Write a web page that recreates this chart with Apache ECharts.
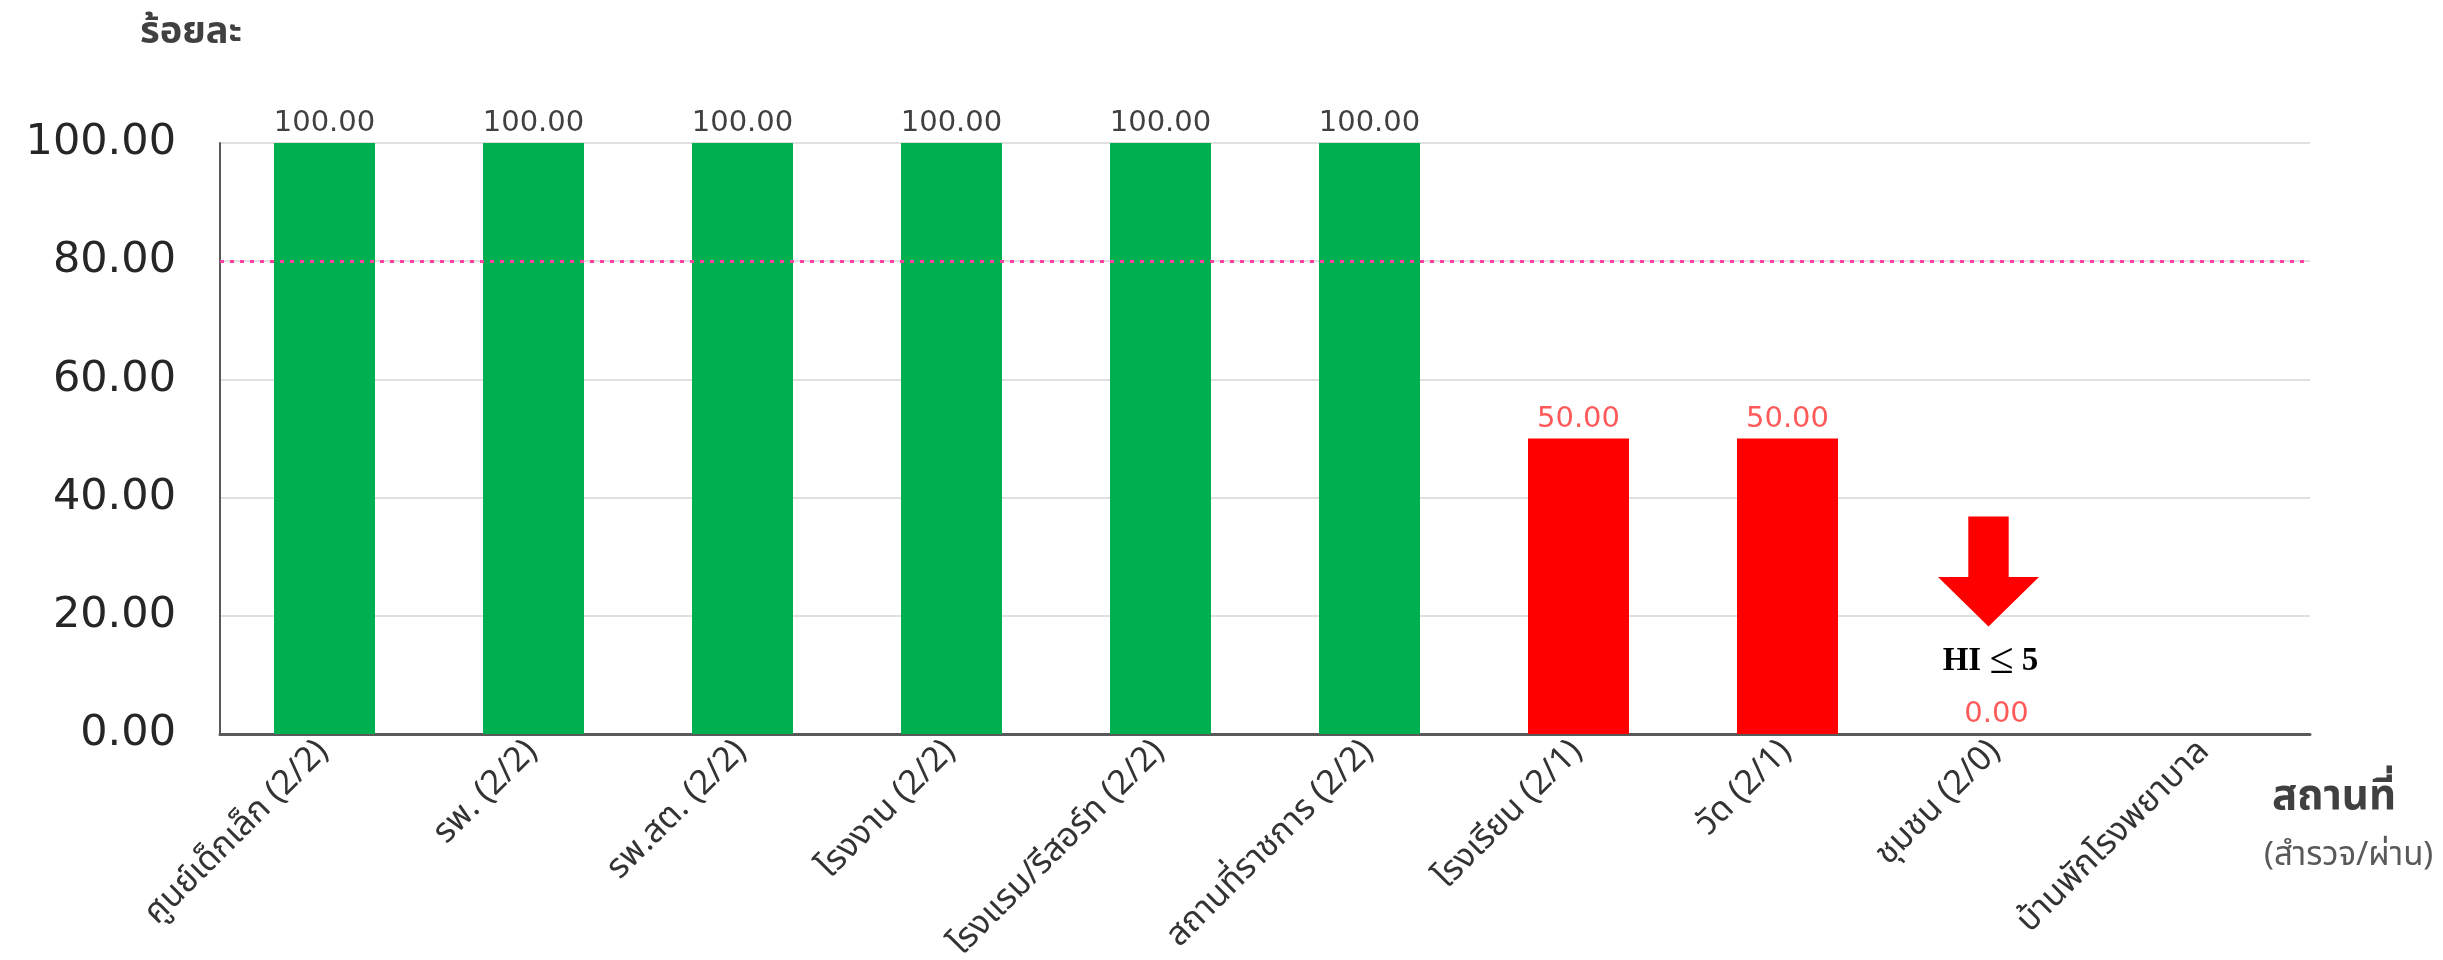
<!DOCTYPE html>
<html>
<head>
<meta charset="utf-8">
<style>
  html, body { margin: 0; padding: 0; background: #ffffff; }
  #chart { width: 2443px; height: 960px; }
</style>
<script src="https://cdn.jsdelivr.net/npm/echarts@6/dist/echarts.min.js"></script>
</head>
<body>
<div id="chart"></div>
<script>
// Places surveyed and the percentage that passed (surveyed/passed in brackets)
const categories = [
  'ศูนย์เด็กเล็ก (2/2)',
  'รพ. (2/2)',
  'รพ.สต. (2/2)',
  'โรงงาน (2/2)',
  'โรงแรม/รีสอร์ท (2/2)',
  'สถานที่ราชการ (2/2)',
  'โรงเรียน (2/1)',
  'วัด (2/1)',
  'ชุมชน (2/0)',
  'บ้านพักโรงพยาบาล'
];
const passPercent = [100, 100, 100, 100, 100, 100, 50, 50, 0, null];
const targetPercent = 80;
const yTicks = [0, 20, 40, 60, 80, 100];
const yAxisTitle = 'ร้อยละ';
const xAxisTitle = 'สถานที่';
const xAxisSubtitle = '(สำรวจ/ผ่าน)';

const GREEN = '#00b050';
const RED = '#ff0000';
const THAI_FONT = "Tahoma, 'Noto Sans Thai', 'Noto Sans', 'DejaVu Sans', sans-serif";
const NUM_FONT = "Verdana, 'DejaVu Sans', sans-serif";
const SERIF_FONT = "'Liberation Serif', 'Times New Roman', serif";

const chart = echarts.init(document.getElementById('chart'), null, { renderer: 'canvas' });

const barData = passPercent.map(v => {
  if (v === null) return null;
  const pass = v >= targetPercent;
  return {
    value: v,
    itemStyle: { color: pass ? GREEN : RED },
    label: { color: pass ? '#404040' : '#ff5a5a' }
  };
});

// Down arrow outline (unit path, scaled by symbolSize)
const arrowPath = 'path://M30,0 L70,0 L70,55 L100,55 L50,100 L0,55 L30,55 Z';

const option = {
  animation: false,
  backgroundColor: '#ffffff',
  grid: {
    left: 220, right: 133, top: 143, bottom: 226,
    containLabel: false,
    outerBoundsMode: 'none'
  },
  xAxis: {
    type: 'category',
    data: categories,
    axisLine: { show: true, lineStyle: { color: '#595959', width: 3 } },
    axisTick: { show: false },
    axisLabel: {
      rotate: 45,
      margin: 14,
      interval: 0,
      fontFamily: THAI_FONT,
      fontSize: 34,
      color: '#333333'
    },
    splitLine: { show: false }
  },
  yAxis: {
    type: 'value',
    min: yTicks[0],
    max: yTicks[yTicks.length - 1],
    interval: yTicks[1] - yTicks[0],
    axisLine: { show: true, lineStyle: { color: '#595959', width: 2 } },
    axisTick: { show: false },
    axisLabel: {
      formatter: v => v.toFixed(2),
      fontFamily: NUM_FONT,
      fontSize: 43,
      color: '#262626',
      margin: 44
    },
    splitLine: { show: true, lineStyle: { color: '#e0e0e0', width: 2 } }
  },
  series: [
    {
      type: 'bar',
      data: barData,
      barWidth: 101,
      label: {
        show: true,
        position: 'top',
        distance: 5,
        formatter: p => (p.value === null || p.value === undefined) ? '' : Number(p.value).toFixed(2),
        fontFamily: NUM_FONT,
        fontSize: 29
      },
      markLine: {
        silent: true,
        symbol: ['none', 'none'],
        label: { show: false },
        lineStyle: { color: '#ff3fa4', type: [4, 6], width: 3 },
        data: [{ yAxis: targetPercent }]
      },
      markPoint: {
        silent: true,
        data: [
          {
            coord: [categories[8], 27.5],
            symbol: arrowPath,
            symbolSize: [101, 110],
            symbolOffset: [-8, 0],
            itemStyle: { color: '#ff0000' },
            label: { show: false }
          },
          {
            coord: [categories[8], 12.2],
            symbol: 'circle',
            symbolSize: 0,
            label: {
              show: true,
              position: 'inside',
              offset: [-6, 0],
              formatter: '{a|HI }{b|≤}{a| 5}',
              rich: {
                a: { fontFamily: SERIF_FONT, fontWeight: 'bold', fontSize: 33, color: '#000000' },
                b: { fontFamily: SERIF_FONT, fontWeight: 'normal', fontSize: 44, color: '#000000' }
              }
            }
          }
        ]
      }
    }
  ],
  graphic: [
    {
      type: 'text',
      left: 140,
      top: 16,
      style: {
        text: yAxisTitle,
        font: "bold 38px " + THAI_FONT,
        fill: '#404040'
      }
    },
    {
      type: 'text',
      left: 2272,
      top: 780,
      style: {
        text: xAxisTitle,
        font: "bold 42px " + THAI_FONT,
        fill: '#404040'
      }
    },
    {
      type: 'text',
      left: 2264,
      top: 842,
      style: {
        text: xAxisSubtitle,
        font: "33px " + THAI_FONT,
        fill: '#595959'
      }
    }
  ]
};

chart.setOption(option);
</script>
</body>
</html>
